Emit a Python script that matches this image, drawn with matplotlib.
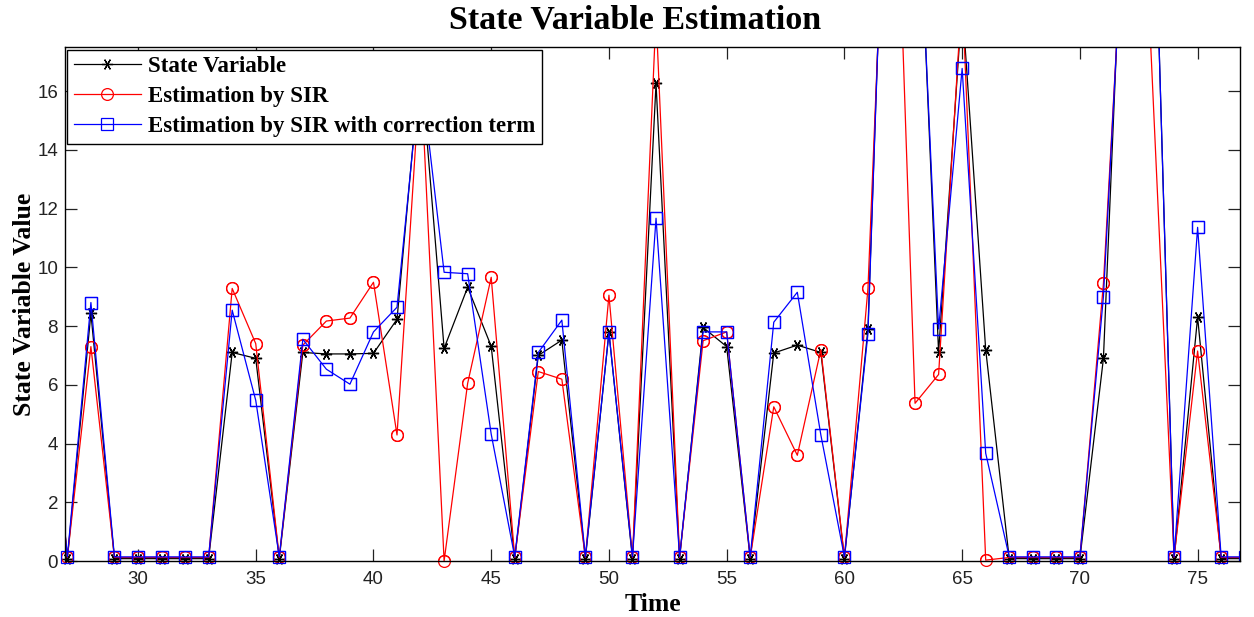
import matplotlib
matplotlib.use("Agg")
import matplotlib.pyplot as plt
import numpy as np

# time axis
time = np.arange(26, 78)

# state variable (true)
state = [8.6, 0.08, 8.43, 0.08, 0.08, 0.08, 0.08, 0.08, 7.1, 6.9,
         0.08, 7.1, 7.05, 7.05, 7.07, 8.23, 17.0, 7.24, 9.32, 7.31,
         0.08, 7.0, 7.52, 0.08, 7.78, 0.08, 16.26, 0.08, 7.95, 7.3,
         0.08, 7.08, 7.35, 7.1, 0.08, 7.9, 31.0, 26.0, 7.1, 19.0,
         7.2, 0.08, 0.08, 0.08, 0.08, 6.9, 26.0, 27.5, 0.08, 8.3,
         0.08, 0.08]

# estimation by SIR
sir = [8.6, 0.12, 7.3, 0.12, 0.12, 0.12, 0.12, 0.12, 9.28, 7.4,
       0.12, 7.35, 8.17, 8.27, 9.49, 4.29, 16.8, 0.0, 6.05, 9.66,
       0.12, 6.45, 6.19, 0.12, 9.05, 0.12, 18.6, 0.12, 7.5, 7.8,
       0.12, 5.25, 3.6, 7.2, 0.12, 9.28, 29.0, 5.37, 6.35, 19.4,
       0.03, 0.12, 0.12, 0.12, 0.12, 9.45, 24.0, 17.7, 0.12, 7.15,
       0.12, 0.12]

# estimation by SIR with correction term
sir_corr = [8.6, 0.14, 8.8, 0.14, 0.14, 0.14, 0.14, 0.14, 8.54, 5.47,
            0.14, 7.55, 6.53, 6.02, 7.8, 8.64, 16.7, 9.83, 9.78, 4.32,
            0.14, 7.1, 8.2, 0.14, 7.78, 0.14, 11.67, 0.14, 7.8, 7.8,
            0.14, 8.13, 9.15, 4.29, 0.14, 7.74, 31.0, 25.5, 7.9, 16.77,
            3.67, 0.14, 0.14, 0.14, 0.14, 9.0, 24.3, 27.5, 0.14, 11.36,
            0.14, 0.14]

labels = ["State Variable", "Estimation by SIR",
          "Estimation by SIR with correction term"]

serif = ["Liberation Serif", "DejaVu Serif"]
plt.rcParams["font.family"] = ["Liberation Sans", "DejaVu Sans"]

fig = plt.figure(figsize=(12.54, 6.17), dpi=100)
ax = fig.add_axes((65 / 1254, 1 - 561 / 617, 1175 / 1254, 514 / 617))

xmin, xmax = 26.9, 76.8
ymin, ymax = 0, 17.5

styles = [
    (state, "k", (6, 2, 90), 8),
    (sir, "r", "o", 8.5),
    (sir_corr, "b", "s", 8.5),
]

handles = []
for (vals, col, mk, ms), lab in zip(styles, labels):
    vals = np.asarray(vals)
    h, = ax.plot(time, vals, color=col, lw=0.9, marker=mk, ms=ms,
                 mfc="none", mec=col, mew=0.9, label=lab)
    handles.append(h)
    # markers inside the view drawn unclipped (MATLAB style)
    keep = (vals <= ymax) & (time >= xmin) & (time <= xmax)
    ax.plot(time[keep], vals[keep], ls="none", marker=mk, ms=ms,
            mfc="none", mec=col, mew=0.9, clip_on=False)

ax.set_xlim(xmin, xmax)
ax.set_ylim(ymin, ymax)
ax.set_xticks(np.arange(30, 80, 5))
ax.set_yticks(np.arange(0, 18, 2))
ax.tick_params(direction="in", length=8.5, width=0.9, top=True, right=True,
               labelsize=13.5, colors="#222222")
ax.tick_params(axis="x", pad=7)
ax.tick_params(axis="y", pad=5)
for s in ax.spines.values():
    s.set_linewidth(1.0)

ax.set_xlabel("Time", fontfamily=serif, fontweight="bold", fontsize=18.5,
              labelpad=4)
ax.set_ylabel("State Variable Value", fontfamily=serif, fontweight="bold",
              fontsize=18.5, labelpad=1)
fig.text(635 / 1254, 1 - 20 / 617, "State Variable Estimation",
         fontfamily=serif, fontweight="bold", fontsize=24.5,
         ha="center", va="center")

leg = ax.legend(handles=handles, loc="upper left",
                bbox_to_anchor=(0.002, 0.995), borderaxespad=0,
                prop={"family": serif, "weight": "bold", "size": 16.5},
                fancybox=False, framealpha=1, edgecolor="k",
                handlelength=2.9, handletextpad=0.3, labelspacing=0.38,
                borderpad=0.3)
leg.get_frame().set_linewidth(1.0)
leg.set_zorder(10)

fig.savefig("out.png", dpi=100)
